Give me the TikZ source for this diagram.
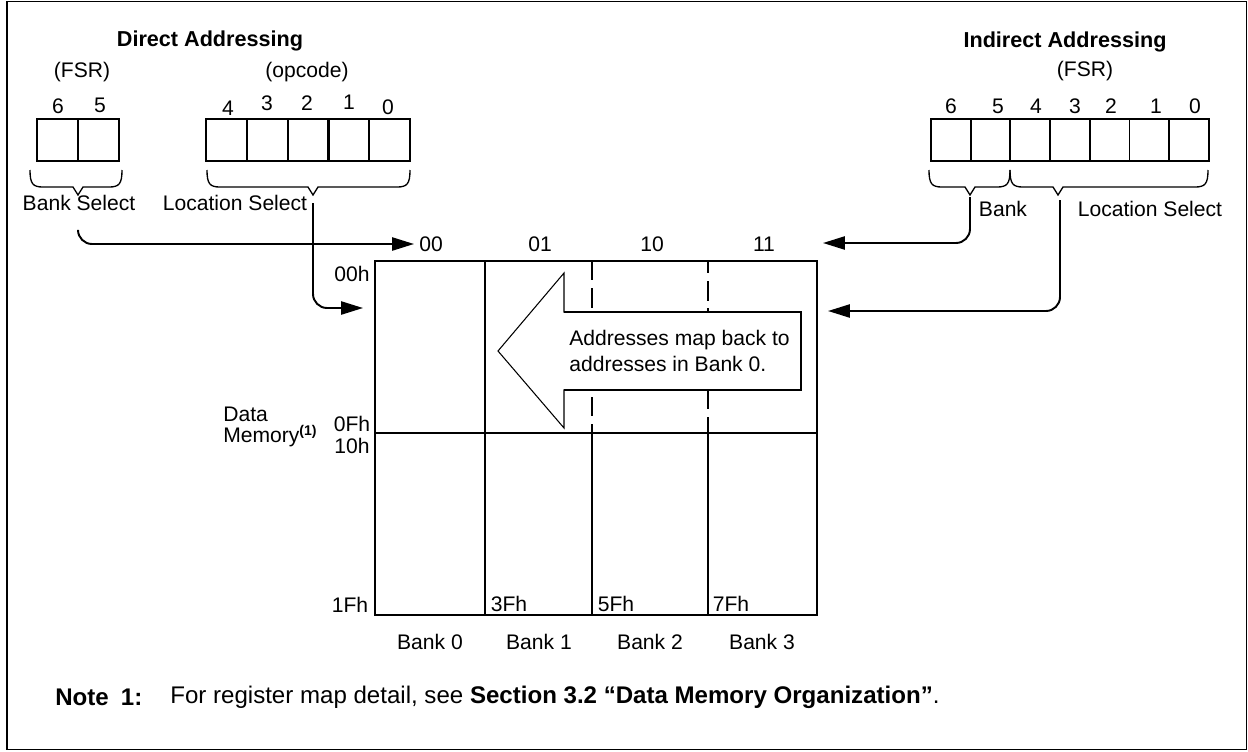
\documentclass[tikz,border=0pt]{standalone}
\usepackage{fontspec}
\setmainfont{Liberation Sans}
\usetikzlibrary{arrows.meta}
\newcommand{\mybrace}[4]{% y-top, x1, tip, x2
  \draw[brace] (#2,#1) .. controls (#2,#1+14) and (#2+3,#1+17) .. (#2+13,#1+17)
    -- (#3-5,#1+17) -- (#3,#1+25) -- (#3+5,#1+17)
    -- (#4-13,#1+17) .. controls (#4-3,#1+17) and (#4,#1+14) .. (#4,#1);}
\begin{document}
\begin{tikzpicture}[x=0.02cm,y=-0.02cm,
  txt/.style={inner sep=0pt,font=\fontsize{12}{14.4}\selectfont},
  bold/.style={inner sep=0pt,font=\fontsize{12.3}{14.4}\selectfont\bfseries},
  notetxt/.style={inner sep=0pt,font=\fontsize{13.7}{16}\selectfont},
  cell/.style={draw,line width=1.1pt,minimum width=41*0.02cm,minimum height=42*0.02cm,inner sep=0pt,anchor=north west},
  rcell/.style={cell,minimum width=39.7*0.02cm},
  brace/.style={line width=0.75pt},
  conn/.style={line width=1.1pt,rounded corners=8pt,-{Triangle[length=12.5pt,width=7.5pt]}},
  grid/.style={line width=1.1pt},
  dashline/.style={line width=1.1pt,dash pattern=on 11pt off 4.5pt}]
\useasboundingbox (0,0) rectangle (1248,751);
\draw[line width=0.9pt] (7,1.5) rectangle (1246.5,749.5);

% ---------- Direct addressing ----------
\node[bold] (dtitle) at (210,41) {Direct Addressing};
\node[txt] (fsrL) at (82,72) {(FSR)};
\node[txt] (opc) at (307,72) {(opcode)};
\foreach \i/\b in {0/6,1/5}{
  \node[cell] (d\b) at (36+41*\i,118) {};
}
\node[txt] at (58,106) {6};
\node[txt] at (100,105) {5};
\foreach \i/\b in {0/4,1/3,2/2,3/1,4/0}{
  \node[cell] (o\b) at (205+40.8*\i,118) {};
}
\node[txt] at (228,108) {4};
\node[txt] at (267,103) {3};
\node[txt] at (307,103) {2};
\node[txt] at (349,102) {1};
\node[txt] at (388,107) {0};
% braces
\mybrace{170}{30}{78}{122}
\mybrace{170}{207}{313}{410}
\node[txt] (bsel) at (79,203) {Bank Select};
\node[txt] (lsel) at (235,203) {Location Select};

% ---------- Indirect addressing ----------
\node[bold] (ititle) at (1065,42) {Indirect Addressing};
\node[txt] (fsrR) at (1085,71) {(FSR)};
\foreach \i/\b in {0/6,1/5,2/4,3/3,4/2,5/1,6/0}{
  \node[rcell] (f\b) at (930+39.7*\i,118) {};
}
\foreach \x/\b in {951/6,998/5,1036/4,1075/3,1111/2,1156/1,1195/0}{
  \node[txt] at (\x,106) {\b};
}
\mybrace{170}{929}{970}{1010}
\mybrace{170}{1010}{1058}{1208}
\node[txt] (ibank) at (1003,209) {Bank};
\node[txt] (iloc) at (1150,209) {Location Select};

% ---------- Memory grid ----------
\draw[grid] (375,261) rectangle (817,615);
\draw[grid] (375,433) -- (817,433);
\draw[grid] (485,261) -- (485,615);
\draw[grid] (592,433) -- (592,615);
\draw[grid] (708,433) -- (708,615);
\draw[dashline] (592,261) -- (592,433);
\draw[dashline,dash phase=4pt] (708,261) -- (708,433);

% big arrow
\draw[fill=white,line width=0.6pt] (564,273) -- (564,312) -- (801,312) -- (801,390) -- (564,390) -- (564,428) -- (498,351) -- cycle;
\draw[line width=1.1pt] (564,312) -- (801,312) -- (801,390) -- (564,390);
\node[txt,align=left,anchor=west] (msg) at (569,351) {Addresses map back to\\addresses in Bank 0.};

% column headers
\node[txt] (c00) at (431,244) {00};
\node[txt] (c01) at (540,244) {01};
\node[txt] (c10) at (652,244) {10};
\node[txt] (c11) at (764,244) {11};
\coordinate (c00w) at (414,244);
\coordinate (c11e) at (823,243);
\coordinate (rowL) at (363,308);
\coordinate (rowR) at (828,311);

% addresses
\node[txt] (a00) at (352,274) {00h};
\node[txt] (a0F) at (352,424) {0Fh};
\node[txt] (a10) at (352,446) {10h};
\node[txt] (a1F) at (350,605) {1Fh};
\node[txt] (a3F) at (509,604) {3Fh};
\node[txt] (a5F) at (616,604) {5Fh};
\node[txt] (a7F) at (731,604) {7Fh};
\node[txt,anchor=west] (dm1) at (223,414) {Data};
\node[txt,anchor=west] (dm2) at (223,436) {Memory\textsuperscript{\bfseries(1)}};

\node[txt] (b0) at (430,642) {Bank 0};
\node[txt] (b1) at (539,642) {Bank 1};
\node[txt] (b2) at (650,642) {Bank 2};
\node[txt] (b3) at (762,642) {Bank 3};

% connectors
\draw[conn] (78,230) -- (78,244) -- (c00w);
\draw[conn] (313,203) -- (313,308) -- (rowL);
\draw[conn] (970,197) -- (970,243) -- (c11e);
\draw[conn] (1060,200) -- (1060,311) -- (rowR);

% note
\node[notetxt,anchor=west] (note1) at (55,697) {\textbf{Note\hspace{0.5em}1:}};
\node[notetxt,anchor=west] (note2) at (170,697) {For register map detail, see \textbf{Section 3.2 ``Data Memory Organization''}.};
\end{tikzpicture}
\end{document}
